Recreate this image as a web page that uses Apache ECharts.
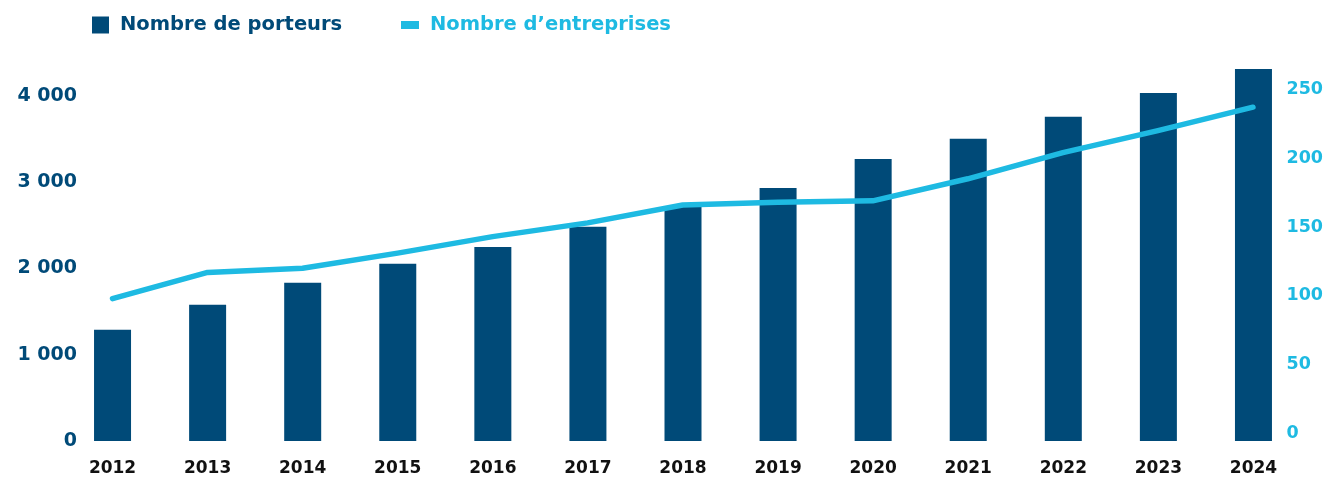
<!DOCTYPE html>
<html>
<head>
<meta charset="utf-8">
<script src="https://cdn.jsdelivr.net/npm/echarts@6/dist/echarts.min.js"></script>
<style>
html,body{margin:0;padding:0;background:#fff;}
#chart{width:1326px;height:479px;}
</style>
</head>
<body>
<div id="chart"></div>
<script>
const years = ['2012','2013','2014','2015','2016','2017','2018','2019','2020','2021','2022','2023','2024'];
const porteurs = [1290,1580,1835,2055,2250,2485,2720,2935,3270,3505,3760,4035,4315];
const entreprises = [98,117,120,131,143,153,166,168,169,185,204,220,237];
const leftTicks = [0,1000,2000,3000,4000];
const rightTicks = [0,50,100,150,200,250];

const NAVY = '#004a78';
const CYAN = '#1ebae2';
const FONT = 'DejaVu Sans';

function fmtThousands(v){
  return String(v).replace(/\B(?=(\d{3})+(?!\d))/g, ' ');
}

const chart = echarts.init(document.getElementById('chart'), null, {renderer:'canvas'});
chart.setOption({
  animation:false,
  backgroundColor:'#fff',
  legend:[
    {data:['Nombre de porteurs'], left:92, top:15, padding:0, icon:'rect', itemWidth:17, itemHeight:17,
     textStyle:{color:NAVY, fontFamily:FONT, fontWeight:'bold', fontSize:19.5, padding:[0,0,0,6]}},
    {data:['Nombre d’entreprises'], left:401, top:15, padding:0, icon:'rect', itemWidth:18, itemHeight:8,
     textStyle:{color:CYAN, fontFamily:FONT, fontWeight:'bold', fontSize:19.5, padding:[0,0,0,6]}}
  ],
  grid:[
    {left:65, right:25, top:53, bottom:38},
    {left:65, right:25, top:89.3, bottom:45.5}
  ],
  xAxis:[
    {type:'category', gridIndex:0, data:years, boundaryGap:true,
     axisLine:{show:false}, axisTick:{show:false},
     axisLabel:{color:'#111', fontFamily:FONT, fontWeight:'bold', fontSize:17, margin:19}},
    {type:'category', gridIndex:1, data:years, boundaryGap:true, show:false}
  ],
  yAxis:[
    {type:'value', gridIndex:0, min:0, max:4500, interval:1000, position:'left',
     splitLine:{show:false}, axisLine:{show:false}, axisTick:{show:false},
     axisLabel:{color:NAVY, fontFamily:FONT, fontWeight:'bold', fontSize:19, margin:-12,
       formatter:function(v){return leftTicks.indexOf(v)>=0 ? fmtThousands(v) : '';}}},
    {type:'value', gridIndex:1, min:0, max:250, interval:50, position:'right',
     splitLine:{show:false}, axisLine:{show:false}, axisTick:{show:false},
     axisLabel:{color:CYAN, fontFamily:FONT, fontWeight:'bold', fontSize:17.5, margin:-14,
       formatter:function(v){return rightTicks.indexOf(v)>=0 ? String(v) : '';}}}
  ],
  series:[
    {name:'Nombre de porteurs', type:'bar', xAxisIndex:0, yAxisIndex:0, data:porteurs,
     barWidth:37, itemStyle:{color:NAVY}},
    {name:'Nombre d’entreprises', type:'line', xAxisIndex:1, yAxisIndex:1, data:entreprises,
     showSymbol:false, symbol:'none', smooth:false, z:3,
     lineStyle:{color:CYAN, width:5.5, cap:'round', join:'round'}, itemStyle:{color:CYAN}}
  ]
});
</script>
</body>
</html>
